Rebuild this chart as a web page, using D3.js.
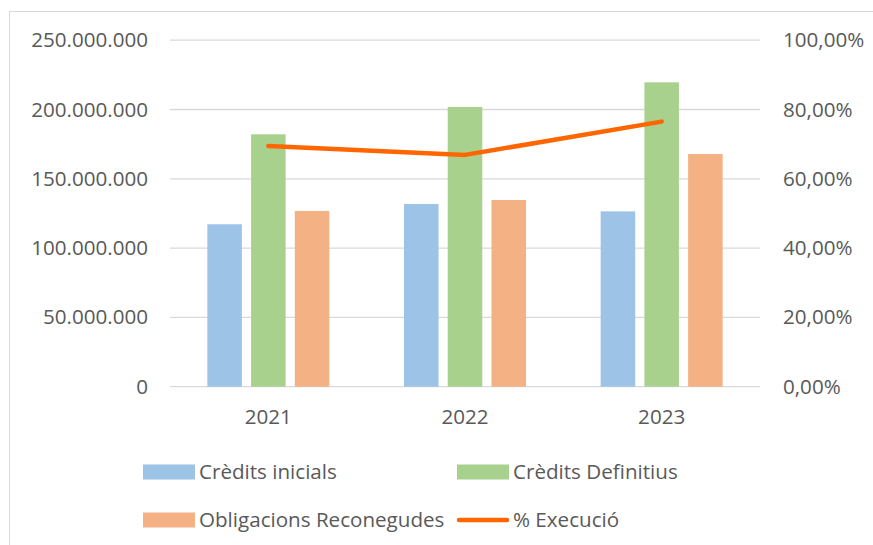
<!DOCTYPE html>
<html>
<head>
<meta charset="utf-8">
<script src="https://cdn.jsdelivr.net/npm/d3@7"></script>
<style>
	body { margin: 0; background: #fff; }
	text { font-family: "Open Sans", sans-serif; fill: #595959; }
</style>
</head>
<body>
<div id="chart-area"></div>
<script>
const years = ["2021", "2022", "2023"];
const seriesNames = ["Crèdits inicials", "Crèdits Definitius", "Obligacions Reconegudes"];
const creditsInicials = [117200000, 131800000, 126500000];
const creditsDefinitius = [182100000, 201800000, 219600000];
const obligacions = [126800000, 134700000, 167900000];
const execucio = [0.695, 0.669, 0.765];
const leftTicks = [0, 50000000, 100000000, 150000000, 200000000, 250000000];
const rightTicks = [0, 0.2, 0.4, 0.6, 0.8, 1.0];

const colors = ["#9dc3e6", "#a9d18e", "#f4b183"];
const lineColor = "#ff6600";

const svgWidth = 873,
			svgHeight = 545;
const plot = {left: 170, right: 760, top: 40.2, bottom: 386.7};
const fontSize = "20.6px";

const svg = d3.select("#chart-area")
	.append("svg")
	.attr("width", svgWidth)
	.attr("height", svgHeight);

// chart frame
svg.append("rect")
	.attr("x", 9.5)
	.attr("y", 11.5)
	.attr("width", svgWidth)
	.attr("height", svgHeight)
	.attr("fill", "none")
	.attr("stroke", "#d9d9d9")
	.attr("stroke-width", 1);

const x0 = d3.scaleBand().domain(years).range([plot.left, plot.right]);
const groupWidth = x0.bandwidth() * 0.667;
const x1 = d3.scaleBand().domain(seriesNames)
	.range([-groupWidth / 2, groupWidth / 2])
	.paddingInner(0.21)
	.paddingOuter(0.105);

const y = d3.scaleLinear().domain([0, 250000000]).range([plot.bottom, plot.top]);
const y2 = d3.scaleLinear().domain([0, 1]).range([plot.bottom, plot.top]);

const fmtLeft = d => d3.format(",")(d).replace(/,/g, ".");
const fmtRight = d => d3.format(".2f")(d * 100).replace(".", ",") + "%";

// gridlines
svg.append("g")
	.selectAll("line")
	.data(leftTicks)
	.enter().append("line")
	.attr("x1", plot.left)
	.attr("x2", plot.right)
	.attr("y1", d => y(d))
	.attr("y2", d => y(d))
	.attr("stroke", "#d9d9d9")
	.attr("stroke-width", 1.3);

// left axis
const yAxisCall = d3.axisLeft(y).tickValues(leftTicks).tickSize(0).tickPadding(22).tickFormat(fmtLeft);
const yAxisGroup = svg.append("g")
	.attr("transform", `translate(${plot.left}, 0)`)
	.call(yAxisCall);
yAxisGroup.select(".domain").remove();
yAxisGroup.selectAll("text")
	.attr("font-size", fontSize)
	.attr("font-family", "Open Sans")
	.attr("fill", "#595959");

// right axis
const y2AxisCall = d3.axisRight(y2).tickValues(rightTicks).tickSize(0).tickPadding(23).tickFormat(fmtRight);
const y2AxisGroup = svg.append("g")
	.attr("transform", `translate(${plot.right}, 0)`)
	.call(y2AxisCall);
y2AxisGroup.select(".domain").remove();
y2AxisGroup.selectAll("text")
	.attr("font-size", fontSize)
	.attr("font-family", "Open Sans")
	.attr("fill", "#595959");

// x axis
const xAxisCall = d3.axisBottom(x0).tickSize(0).tickPadding(23);
const xAxisGroup = svg.append("g")
	.attr("transform", `translate(0, ${plot.bottom})`)
	.call(xAxisCall);
xAxisGroup.select(".domain").remove();
xAxisGroup.selectAll("text")
	.attr("font-size", fontSize)
	.attr("font-family", "Open Sans")
	.attr("fill", "#595959");

// bars
const allSeries = [creditsInicials, creditsDefinitius, obligacions];
const barGroups = svg.append("g")
	.selectAll("g")
	.data(allSeries)
	.enter().append("g")
	.attr("fill", (d, i) => colors[i]);

barGroups.selectAll("rect")
	.data((d, i) => d.map((v, j) => ({year: years[j], name: seriesNames[i], value: v})))
	.enter().append("rect")
	.attr("x", d => x0(d.year) + x0.bandwidth() / 2 + x1(d.name))
	.attr("width", x1.bandwidth())
	.attr("y", d => y(d.value))
	.attr("height", d => y(0) - y(d.value));

// line
const line = d3.line()
	.x((d, i) => x0(years[i]) + x0.bandwidth() / 2)
	.y(d => y2(d));

svg.append("path")
	.attr("d", line(execucio))
	.attr("fill", "none")
	.attr("stroke", lineColor)
	.attr("stroke-width", 4.5)
	.attr("stroke-linecap", "round")
	.attr("stroke-linejoin", "round");

// legend
const legendItems = [
	{label: seriesNames[0], color: colors[0], type: "rect", x: 143, y: 472},
	{label: seriesNames[1], color: colors[1], type: "rect", x: 457, y: 472},
	{label: seriesNames[2], color: colors[2], type: "rect", x: 143, y: 520},
	{label: "% Execució", color: lineColor, type: "line", x: 457, y: 520}
];

const legend = svg.append("g")
	.selectAll("g")
	.data(legendItems)
	.enter().append("g")
	.attr("transform", d => `translate(${d.x}, ${d.y})`);

legend.filter(d => d.type === "rect").append("rect")
	.attr("x", 0)
	.attr("y", -7.5)
	.attr("width", 52)
	.attr("height", 15)
	.attr("fill", d => d.color);

legend.filter(d => d.type === "line").append("line")
	.attr("x1", 2)
	.attr("x2", 50)
	.attr("y1", 0)
	.attr("y2", 0)
	.attr("stroke", d => d.color)
	.attr("stroke-width", 4.5)
	.attr("stroke-linecap", "round");

legend.append("text")
	.attr("x", 56)
	.attr("y", 0)
	.attr("dy", "0.35em")
	.attr("font-size", fontSize)
	.text(d => d.label);
</script>
</body>
</html>
